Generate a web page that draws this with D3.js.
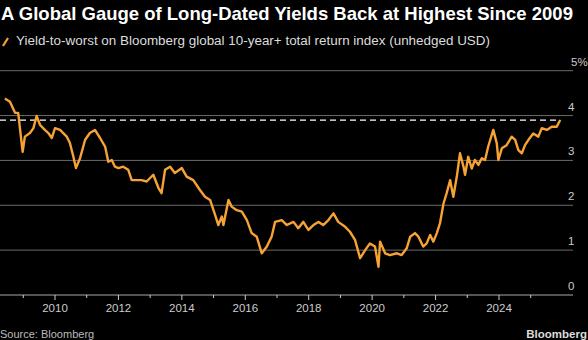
<!DOCTYPE html>
<html lang="en">
<head>
<meta charset="UTF-8">
<title>Global Gauge of Long-Dated Yields</title>
<script src="https://cdnjs.cloudflare.com/ajax/libs/d3/7.8.5/d3.min.js"></script>
<style>
    body { margin: 0; background: #000; overflow: hidden; }
    svg { display: block; font-family: "Liberation Sans", Arial, sans-serif; }
</style>
</head>
<body>
<svg id="chart" width="588" height="340"></svg>
<script>
// Decimal years and yield-to-worst (%)
const years = [
    2008.42, 2008.58, 2008.74, 2008.84, 2008.90, 2008.98, 2009.05, 2009.21, 2009.32, 2009.42,
    2009.53, 2009.68, 2009.79, 2009.90, 2010.00, 2010.16, 2010.26, 2010.37, 2010.47, 2010.58,
    2010.66, 2010.79, 2010.95, 2011.10, 2011.26, 2011.42, 2011.58, 2011.68, 2011.79, 2011.89,
    2012.00, 2012.15, 2012.31, 2012.42, 2012.58, 2012.73, 2012.89, 2013.10, 2013.26, 2013.36,
    2013.47, 2013.63, 2013.78, 2014.00, 2014.15, 2014.36, 2014.57, 2014.73, 2014.89, 2015.05,
    2015.15, 2015.26, 2015.31, 2015.47, 2015.57, 2015.73, 2015.89, 2016.05, 2016.20, 2016.36,
    2016.52, 2016.68, 2016.83, 2016.94, 2017.15, 2017.31, 2017.52, 2017.67, 2017.83, 2017.99,
    2018.15, 2018.30, 2018.46, 2018.62, 2018.78, 2018.93, 2019.15, 2019.30, 2019.46, 2019.62,
    2019.78, 2019.93, 2020.09, 2020.20, 2020.25, 2020.41, 2020.56, 2020.78, 2020.93, 2021.09,
    2021.20, 2021.35, 2021.46, 2021.61, 2021.72, 2021.83, 2021.93, 2022.04, 2022.14, 2022.25,
    2022.35, 2022.46, 2022.56, 2022.67, 2022.77, 2022.88, 2022.93, 2023.03, 2023.14, 2023.24,
    2023.35, 2023.46, 2023.56, 2023.66, 2023.82, 2023.93, 2023.98, 2024.09, 2024.24, 2024.40,
    2024.51, 2024.61, 2024.72, 2024.82, 2024.93, 2025.08, 2025.24, 2025.35, 2025.51, 2025.66,
    2025.82, 2025.93
];
const yields = [
    4.38, 4.31, 4.06, 4.06, 3.68, 3.19, 3.53, 3.61, 3.72, 3.99,
    3.79, 3.68, 3.61, 3.50, 3.72, 3.68, 3.61, 3.53, 3.39, 3.08,
    2.83, 3.05, 3.46, 3.61, 3.68, 3.50, 3.31, 2.97, 3.01, 2.86,
    2.83, 2.86, 2.79, 2.56, 2.56, 2.56, 2.53, 2.68, 2.39, 2.27,
    2.79, 2.86, 2.72, 2.83, 2.64, 2.56, 2.34, 2.19, 2.12, 1.78,
    1.56, 1.75, 1.56, 2.12, 1.97, 1.89, 1.86, 1.67, 1.38, 1.30,
    0.93, 1.08, 1.30, 1.63, 1.67, 1.56, 1.63, 1.49, 1.63, 1.45,
    1.56, 1.63, 1.56, 1.67, 1.82, 1.63, 1.52, 1.41, 1.23, 0.82,
    1.00, 1.15, 1.08, 0.63, 1.19, 0.93, 0.89, 0.93, 0.89, 1.04,
    1.30, 1.38, 1.30, 1.08, 1.15, 1.34, 1.19, 1.38, 1.60, 2.04,
    2.27, 2.56, 2.19, 2.64, 3.16, 2.86, 2.68, 3.08, 2.82, 3.01,
    2.90, 3.05, 3.01, 3.31, 3.68, 3.38, 3.01, 3.27, 3.34, 3.53,
    3.46, 3.23, 3.16, 3.34, 3.46, 3.60, 3.53, 3.72, 3.68, 3.75,
    3.75, 3.90
];
const yTicks = [0, 1, 2, 3, 4, 5];
const xTickYears = [2009, 2010, 2011, 2012, 2013, 2014, 2015, 2016, 2017, 2018, 2019, 2020, 2021, 2022, 2023, 2024, 2025];
const xLabelYears = [2010, 2012, 2014, 2016, 2018, 2020, 2022, 2024];
const latestLevel = 3.9;

const svg = d3.select("#chart");
const plotRight = 573;

const x = d3.scaleLinear().domain([2010, 2024]).range([55, 499]);
const y = d3.scaleLinear().domain([0, 5]).range([295, 70.7]);

// background
svg.append("rect").attr("width", 588).attr("height", 340).attr("fill", "#000");

// title, sized so it spans the width like the original
const title = svg.append("text")
    .attr("x", 1).attr("y", 20)
    .attr("fill", "#fff")
    .attr("font-weight", "bold")
    .attr("font-size", 17)
    .text("A Global Gauge of Long-Dated Yields Back at Highest Since 2009");
const titleW = title.node().getComputedTextLength();
title.attr("font-size", Math.min(18.5, 17 * 575 / titleW));

// legend
svg.append("line")
    .attr("x1", 3).attr("y1", 46).attr("x2", 8).attr("y2", 38)
    .attr("stroke", "#f7a235").attr("stroke-width", 2.2);
svg.append("text")
    .attr("x", 16).attr("y", 45)
    .attr("fill", "#ddd")
    .attr("font-size", 12)
    .attr("textLength", 474)
    .attr("lengthAdjust", "spacingAndGlyphs")
    .text("Yield-to-worst on Bloomberg global 10-year+ total return index (unhedged USD)");

// grid lines
svg.append("g")
    .selectAll("line")
    .data(yTicks.filter(d => d > 0))
    .join("line")
    .attr("x1", 0).attr("x2", plotRight)
    .attr("y1", d => y(d)).attr("y2", d => y(d))
    .attr("stroke", "#6a6a6a")
    .attr("stroke-width", 1);

// y labels
svg.append("g")
    .selectAll("text")
    .data(yTicks)
    .join("text")
    .attr("x", d => d === 5 ? 571 : 568)
    .attr("y", d => y(d) - 5)
    .attr("fill", "#ccc")
    .attr("font-size", 11.5)
    .text(d => d === 5 ? "5%" : d);

// x axis
const xAxis = svg.append("g");
xAxis.append("line")
    .attr("x1", 0).attr("x2", plotRight)
    .attr("y1", y(0)).attr("y2", y(0))
    .attr("stroke", "#aaa");
xAxis.selectAll(".tick")
    .data(xTickYears)
    .join("line")
    .attr("class", "tick")
    .attr("x1", d => x(d)).attr("x2", d => x(d))
    .attr("y1", y(0))
    .attr("y2", d => y(0) + (d % 2 === 0 ? 5 : 3))
    .attr("stroke", "#ccc");
xAxis.selectAll(".lbl")
    .data(xLabelYears)
    .join("text")
    .attr("class", "lbl")
    .attr("x", d => x(d)).attr("y", 312)
    .attr("text-anchor", "middle")
    .attr("fill", "#ccc")
    .attr("font-size", 11.5)
    .text(d => d);

// current level
svg.append("line")
    .attr("x1", 0).attr("x2", x(years[years.length - 1]))
    .attr("y1", y(latestLevel)).attr("y2", y(latestLevel))
    .attr("stroke", "#fff")
    .attr("stroke-width", 1.2)
    .attr("stroke-dasharray", "6,4");

// series
const line = d3.line()
    .x((d, i) => x(years[i]))
    .y(d => y(d));
svg.append("path")
    .datum(yields)
    .attr("fill", "none")
    .attr("stroke", "#f7a235")
    .attr("stroke-width", 2.4)
    .attr("stroke-linejoin", "round")
    .attr("d", line);

// footer
svg.append("text")
    .attr("x", 0).attr("y", 338)
    .attr("fill", "#bbb")
    .attr("font-size", 11)
    .text("Source: Bloomberg");
svg.append("text")
    .attr("x", 587).attr("y", 338)
    .attr("text-anchor", "end")
    .attr("fill", "#ddd")
    .attr("font-weight", "bold")
    .attr("font-size", 11.5)
    .text("Bloomberg");
</script>
</body>
</html>
